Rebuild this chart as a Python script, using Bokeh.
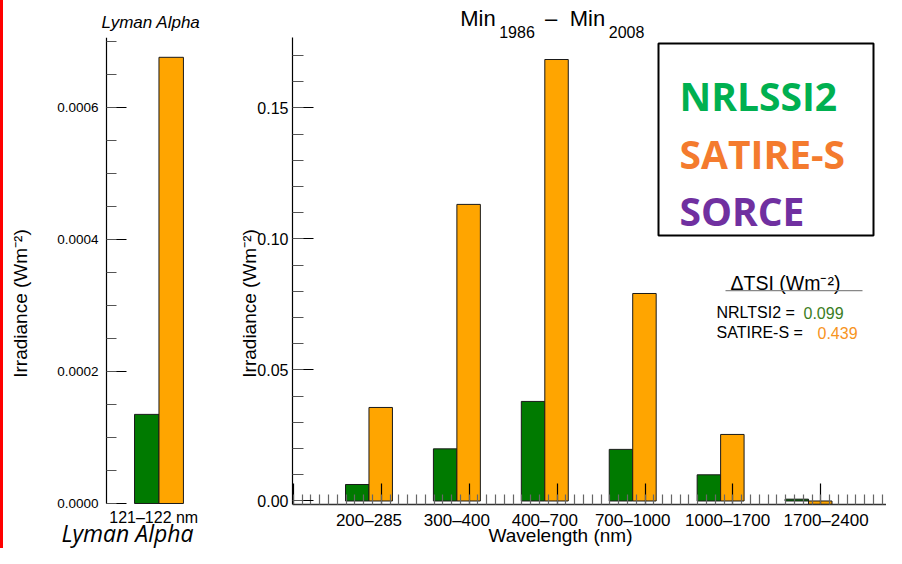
import math
from bokeh.plotting import figure
from bokeh.models import (ColumnDataSource, FixedTicker, LinearAxis, Range1d, Label,
                          BoxAnnotation, NumeralTickFormatter, Title, Spacer)
from bokeh.layouts import row
from bokeh.embed import file_html
from bokeh.resources import INLINE

# ---------------- data ----------------
lyman_band = ["121–122 nm"]
lyman_nrlssi2 = [0.000135]
lyman_satire = [0.000676]

bands = ["200–285", "300–400", "400–700", "700–1000", "1000–1700", "1700–2400"]
band_label_pos = [0.0, 1.0, 2.0, 3.0, 4.08, 5.2]
nrlssi2 = [0.0063, 0.0199, 0.0380, 0.0197, 0.0100, 0.0007]
satire = [0.0357, 0.1132, 0.1685, 0.0792, 0.0254, -0.0013]

left_major = [0.0, 0.0002, 0.0004, 0.0006]
right_major = [0.0, 0.05, 0.10, 0.15]

title_main = ["Min", "–", "Min"]
title_main_pos = [1.24, 2.071, 2.486]
title_sub = ["1986", "2008"]
title_sub_pos = [1.684, 2.93]

tsi_nrltsi2 = "0.099"
tsi_satire = "0.439"

GREEN = "#007A00"
ORANGE = "#FFA500"
FONT = "Liberation Sans"
H = 548
WR = 3
W1 = 215
W2 = 886 - WR - W1
L_FRAME_LEFT = WR          # canvas x of the left frame
R_FRAME_LEFT = 292         # canvas x of the right frame
FRAME_BOTTOM = H           # both frames reach the bottom of the canvas


def tick_label_axis(ticks, labels, size, standoff, style="normal", font=FONT,
                    orient="horizontal", fixed=None):
    return LinearAxis(ticker=FixedTicker(ticks=ticks),
                      major_label_overrides={p: t for p, t in zip(ticks, labels)},
                      axis_line_color=None, major_tick_line_color=None, minor_tick_line_color=None,
                      major_tick_in=0, major_tick_out=0, minor_tick_in=0, minor_tick_out=0,
                      major_label_standoff=standoff, major_label_text_font=font,
                      major_label_text_font_size=size, major_label_text_font_style=style,
                      major_label_text_color="black", major_label_orientation=orient,
                      fixed_location=fixed)


def lab(fig, frame_left, cx, cy, text, size, color="black", font=FONT, style="normal",
        align="left", baseline="alphabetic", angle=0.0):
    fig.add_layout(Label(x=cx - frame_left, y=FRAME_BOTTOM - cy, x_units="screen",
                         y_units="screen", text=text, text_font=font, text_font_size=size,
                         text_font_style=style, text_color=color, text_align=align,
                         text_baseline=baseline, angle=angle))


def box(fig, frame_left, x0, x1, y0, y1, **kw):
    fig.add_layout(BoxAnnotation(left=x0 - frame_left, right=x1 - frame_left,
                                 top=FRAME_BOTTOM - y0, bottom=FRAME_BOTTOM - y1,
                                 left_units="screen", right_units="screen",
                                 top_units="screen", bottom_units="screen", **kw))


# ---------------- left panel (Lyman alpha) ----------------
bw_l = 0.233
left = figure(width=W1, height=H, output_backend="svg", toolbar_location=None,
              x_range=Range1d(-1.481, 0.567), y_range=Range1d(-0.0000682, 0.000706),
              x_axis_type=None, y_axis_type=None,
              title=Title(text="Lyman Alpha", align="left", offset=98, standoff=12,
                          text_font=FONT, text_font_size="17px", text_font_style="italic",
                          text_color="black"),
              min_border_left=0, min_border_right=0, min_border_top=37, min_border_bottom=0)
left.outline_line_color = None
left.background_fill_color = "white"
left.border_fill_color = "white"

ls = ColumnDataSource(dict(xg=[i - bw_l / 2 for i in range(len(lyman_band))],
                           xo=[i + bw_l / 2 for i in range(len(lyman_band))],
                           g=lyman_nrlssi2, o=lyman_satire))
left.vbar(x="xg", top="g", bottom=0, width=bw_l, source=ls, fill_color=GREEN,
          line_color="#1a1a1a", line_width=1)
left.vbar(x="xo", top="o", bottom=0, width=bw_l, source=ls, fill_color=ORANGE,
          line_color="#1a1a1a", line_width=1)

yl = LinearAxis(ticker=FixedTicker(ticks=left_major, minor_ticks=[k * 0.00005 for k in range(15)]),
                formatter=NumeralTickFormatter(format="0.0000"), fixed_location=-0.5,
                bounds=(0, 0.000706),
                major_tick_in=20, major_tick_out=0, minor_tick_in=10, minor_tick_out=0,
                major_label_standoff=8, major_label_text_font=FONT,
                major_label_text_font_size="13.5px", major_label_text_color="black",
                axis_line_color="black", axis_line_width=1.2,
                major_tick_line_color="black", major_tick_line_width=1.2,
                minor_tick_line_color="#555555", minor_tick_line_width=1.2)
left.add_layout(yl, "left")
left.add_layout(tick_label_axis([-0.05], lyman_band, "16px", 6, fixed=0.0), "below")

lab(left, L_FRAME_LEFT, 19.5, 303, "Irradiance (Wm⁻²)", "19px", align="center",
    baseline="middle", angle=math.pi / 2)
lab(left, L_FRAME_LEFT, 127, 532, "Lyman Alpha", "23px", font="Open Sans", style="italic",
    align="center")

# ---------------- right panel (bands) ----------------
bw = 0.267
right = figure(width=W2, height=H, output_backend="svg", toolbar_location=None,
               x_range=Range1d(-0.870, 5.887), y_range=Range1d(-0.01813, 0.1769),
               x_axis_type=None, y_axis_type=None,
               min_border_left=74, min_border_right=0, min_border_top=37, min_border_bottom=0)
right.outline_line_color = None
right.background_fill_color = "white"
right.border_fill_color = "white"

rs = ColumnDataSource(dict(xg=[i - bw / 2 for i in range(len(bands))],
                           xo=[i + bw / 2 for i in range(len(bands))],
                           g=nrlssi2, o=satire))
right.vbar(x="xg", top="g", bottom=0, width=bw, source=rs, fill_color=GREEN,
           line_color="#1a1a1a", line_width=1)
right.vbar(x="xo", top="o", bottom=0, width=bw, source=rs, fill_color=ORANGE,
           line_color="#1a1a1a", line_width=1)

yr = LinearAxis(ticker=FixedTicker(ticks=right_major, minor_ticks=[k * 0.01 for k in range(18)]),
                formatter=NumeralTickFormatter(format="0.00"), bounds=(-0.00134, 0.1769),
                major_tick_in=21, major_tick_out=0, minor_tick_in=11, minor_tick_out=0,
                major_label_standoff=4, major_label_text_font=FONT,
                major_label_text_font_size="16px", major_label_text_color="black",
                axis_line_color="black", axis_line_width=1.2,
                major_tick_line_color="black", major_tick_line_width=1.2,
                minor_tick_line_color="#555555", minor_tick_line_width=1.2)
right.add_layout(yr, "left")
right.add_layout(tick_label_axis([0.0754], ["Irradiance (Wm⁻²)"], "19px", -6,
                                 orient="vertical"), "left")

tick_major = [i + 0.14 for i in range(-1, 7)]
tick_minor = [round(-0.86 + 0.1 * k, 2) for k in range(70)]
xb = LinearAxis(ticker=FixedTicker(ticks=tick_major, minor_ticks=tick_minor),
                fixed_location=-0.00134,
                major_tick_in=21, major_tick_out=0, minor_tick_in=10, minor_tick_out=0,
                major_label_text_font_size="1px", major_label_standoff=0,
                major_label_text_color=None,
                axis_line_color="#333333", axis_line_width=1.3,
                major_tick_line_color="black", major_tick_line_width=1.2,
                minor_tick_line_color="#666666", minor_tick_line_width=1.2)
right.add_layout(xb, "below")
right.add_layout(tick_label_axis(band_label_pos, bands, "17px", 6, fixed=-0.00134), "below")

lab(right, R_FRAME_LEFT, 560, 535, "Wavelength (nm)", "19px", align="center")

# title Min_1986 - Min_2008 (sub-scripts nearest the frame)
right.add_layout(tick_label_axis(title_sub_pos, title_sub, "16px", 0), "above")
right.add_layout(tick_label_axis(title_main_pos, title_main, "22px", -8), "above")

# legend box
box(right, R_FRAME_LEFT, 658, 873, 43, 235, fill_color="white", fill_alpha=1.0,
    line_color="black", line_width=2, line_alpha=1.0)
lab(right, R_FRAME_LEFT, 679, 95, "NRLSSI2", "39px", color="#00B050", font="Open Sans", style="bold")
lab(right, R_FRAME_LEFT, 679, 153, "SATIRE-S", "39px", color="#F47B2E", font="Open Sans", style="bold")
lab(right, R_FRAME_LEFT, 679, 210, "SORCE", "39px", color="#7030A0", font="Open Sans", style="bold")

# delta TSI annotation
lab(right, R_FRAME_LEFT, 730, 282, "ΔTSI (Wm⁻²)", "19.5px")
box(right, R_FRAME_LEFT, 725, 862, 289.4, 290.8, fill_color="#888888", fill_alpha=1.0,
    line_color=None)
lab(right, R_FRAME_LEFT, 716, 312, "NRLTSI2 = ", "16px")
lab(right, R_FRAME_LEFT, 803, 312, tsi_nrltsi2, "16px", color="#3B7D23")
lab(right, R_FRAME_LEFT, 716, 332, "SATIRE-S  = ", "16px")
lab(right, R_FRAME_LEFT, 817, 332, tsi_satire, "16px", color="#F7941E")

red = Spacer(width=WR, height=H, styles={"background-color": "red"})
layout = row(red, left, right)
open("out.html", "w").write(file_html(layout, INLINE))
